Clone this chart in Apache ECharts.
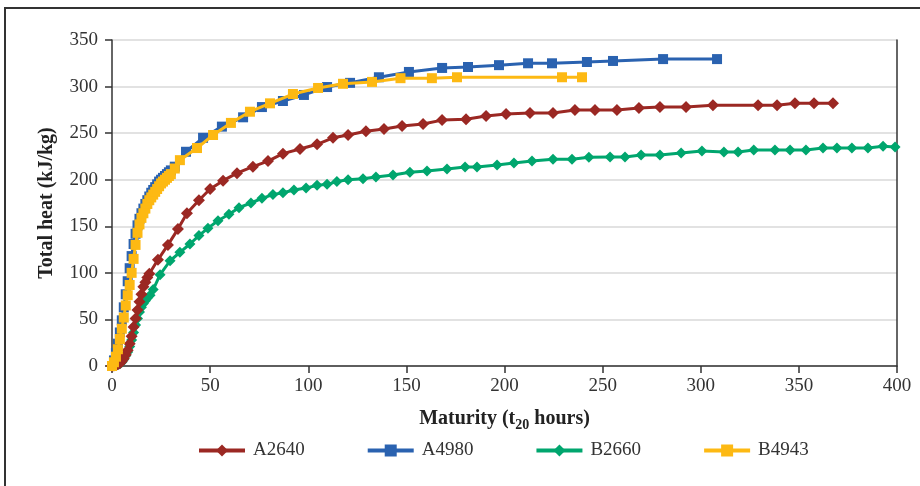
<!DOCTYPE html>
<html><head><meta charset="utf-8">
<script src="https://cdn.jsdelivr.net/npm/echarts@6/dist/echarts.min.js"></script>
<style>html,body{margin:0;padding:0;background:#fff}#c{width:920px;height:486px}</style>
</head><body><div id="c"></div>
<script>
const xTicks = [0,50,100,150,200,250,300,350,400];
const yTicks = [0,50,100,150,200,250,300,350];

const a2640X = [0,1,2,3,4,5,6,7,8,9,10,11,12,13,14,15,16,17,18,19,23.4,28.5,33.6,38.2,44.3,50,56.6,63.7,71.8,79.5,87.1,95.8,104.5,112.6,120.3,129.4,138.6,147.8,158.5,168.2,180.4,190.6,200.8,213,224.7,235.9,246.1,257.3,268.5,279.2,292.5,306.2,329.2,338.9,348,357.7,367.4];
const a2640Y = [0,0.5,1,2,3,5,8,12,17,24,32,42,51,60,69,77,85,90,95,99,114,130,147,164,178,190,199,207,214,220,228,233,238,245,248,252,254.5,257.7,259.8,264,265,268.4,270.6,271.6,271.6,274.9,274.9,274.9,277,278,278,280,280,280,282,282,282];

const a4980X = [0,1,2,3,4,5,6,7,8,9,10,11,12,13,14,15,16,17,18,19,20,21,22,23,24,25,26,27,28,29,30,32,37.7,46.4,56,66.8,76.4,87.1,97.8,109.6,121.3,136,151.3,168.2,181.4,197.2,212,224.2,242,255.3,280.8,308.3];
const a4980Y = [0,6,14,24,36,49,63,77,91,105,118,131,142,151,158,164,169,174,178,182,186,189,192,195,198,200,202,204,206,208,210,214,230,245,257,267,278,284.5,291,299.5,304,310,315.7,320,321,323,325,325,326.4,327.5,329.5,329.5];

const b2660X = [0,1,2,3,4,5,6,7,8,9,10,11,12,13,14,15,16,17,18,19.4,21,24.5,29.6,34.6,39.7,44.3,48.9,54,59.6,64.7,70.8,76.4,82,87.1,92.7,98.9,104.5,109.6,114.6,120.3,127.9,134.5,143.2,151.8,160.5,170.7,179.9,186,196.2,204.8,214,224.7,234.4,243,253.8,261.4,269.6,279.2,290,300.6,311.8,319,327,337.8,345.5,353.6,362.3,369.4,377,385.2,392.9,399];
const b2660Y = [0,0.3,0.8,1.5,2.5,4,7,11,15,21,28,36,44,51,58,63,67,70,73,76,82,98,113,122,131,140,148,156,163,170,175,180,184,186,189,191,194,195,198,200,201,203,205,208,209.4,211.5,213.7,213.7,215.8,218,220,222,222,224,224.4,224.4,226.5,226.5,228.7,230.8,229.8,229.8,232,232,232,232,234,234,234,234,236,235];

const b4943X = [0,1,2,3,4,5,6,7,8,9,10,11,12,13,14,15,16,17,18,19,20,21,22,23,24,25,26,27,28,29,30,32,34.6,43.3,51.5,60.6,70.3,80.5,92.2,105,117.7,132.5,147,163,175.8,229.3,239.5];
const b4943Y = [0,4,10,18,29,40,52,65,76,87,100,115,130,143,152,159,164,169,174,178,181,184,187,190,193,196,198,200,202,204,206,212,221,234,248,261,273,282,292,298.5,303,305,309,309,310,310,310];

const zip = (xs, ys) => xs.map((x, i) => [x, ys[i]]);
const FONT = '"Liberation Serif", "DejaVu Serif", serif';

function mk(name, xs, ys, color, symbol, size, z) {
  return {
    name, type: 'line', data: zip(xs, ys), z,
    symbol, symbolSize: size, showSymbol: true,
    lineStyle: { color, width: 3 },
    itemStyle: { color, borderWidth: 0 },
    emphasis: { disabled: true }, animation: false, clip: true
  };
}

const chart = echarts.init(document.getElementById('c'));
chart.setOption({
  animation: false,
  backgroundColor: '#fff',
  textStyle: { fontFamily: FONT },
  graphic: [{
    type: 'rect', silent: true,
    shape: { x: 5, y: 8, width: 1000, height: 1000 },
    style: { fill: 'none', stroke: '#333', lineWidth: 2 }
  }],
  grid: { left: 112, right: 23, top: 40, bottom: 120 },
  legend: {
    top: 436, left: 192, itemWidth: 46, itemHeight: 15, itemGap: 61,
    lineStyle: { width: 4 },
    textStyle: { fontFamily: FONT, fontSize: 19, color: '#333', padding: [0,0,0,3] },
    data: ['A2640', 'A4980', 'B2660', 'B4943']
  },
  xAxis: {
    type: 'value', min: 0, max: 400, interval: 50,
    name: '{a|Maturity (t}{s|20}{a| hours)}',
    nameLocation: 'middle', nameGap: 40,
    nameTextStyle: {
      rich: {
        a: { fontFamily: FONT, fontSize: 20, fontWeight: 'bold', color: '#222' },
        s: { fontFamily: FONT, fontSize: 14, fontWeight: 'bold', color: '#222', padding: [12,0,0,0] }
      }
    },
    axisLine: { show: true, lineStyle: { color: '#333', width: 1.5 } },
    axisTick: { show: true, length: 7, lineStyle: { color: '#333', width: 1.5 } },
    axisLabel: { margin: 11, fontFamily: FONT, fontSize: 19, color: '#333',
      formatter: v => xTicks.includes(v) ? String(v) : '' },
    splitLine: { show: false }
  },
  yAxis: [{
    type: 'value', min: 0, max: 350, interval: 50,
    name: 'Total heat (kJ/kg)', nameLocation: 'middle', nameGap: 55,
    nameTextStyle: { fontFamily: FONT, fontSize: 20, fontWeight: 'bold', color: '#222' },
    axisLine: { show: true, lineStyle: { color: '#333', width: 1.5 } },
    axisTick: { show: true, length: 7, lineStyle: { color: '#333', width: 1.5 } },
    axisLabel: { margin: 14, fontFamily: FONT, fontSize: 19, color: '#333',
      formatter: v => yTicks.includes(v) ? String(v) : '' },
    splitLine: { show: true, lineStyle: { color: '#d9d9d9', width: 1.5 } }
  }, {
    type: 'value', min: 0, max: 350, interval: 50, position: 'right',
    axisLine: { show: true, lineStyle: { color: '#333', width: 1.5 } },
    axisTick: { show: false }, axisLabel: { show: false }, splitLine: { show: false }
  }],
  series: [
    mk('A2640', a2640X, a2640Y, '#9b2823', 'diamond', 12, 4),
    mk('A4980', a4980X, a4980Y, '#2a62b0', 'rect', 10, 3),
    mk('B2660', b2660X, b2660Y, '#00a66e', 'diamond', 11, 2),
    mk('B4943', b4943X, b4943Y, '#fdb913', 'rect', 10, 5)
  ]
});
</script></body></html>
